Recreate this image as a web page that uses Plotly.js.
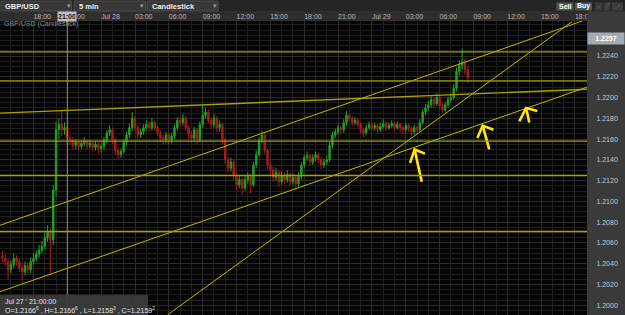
<!DOCTYPE html>
<html><head><meta charset="utf-8">
<script src="https://cdn.plot.ly/plotly-3.0.1.min.js"></script>
<style>html,body{margin:0;padding:0;background:#3a3a3a;overflow:hidden}#chart{width:625px;height:315px}</style>
</head><body><div id="chart"></div>
<script>
// ---- data (15-minute aggregation) ----
const startTime = '2022-07-27 15:15';
const stepMinutes = 15;
const openP = [
1.2048,1.2045,1.2042,1.2034,1.2039,1.2045,1.2042,1.2036,1.2032,1.2038,
1.2034,1.2042,1.2045,1.2049,1.2053,1.2057,1.2065,1.2071,1.2063,1.2111,
1.2169,1.2174,1.2169,1.2171,1.2161,1.2159,1.2154,1.2157,1.2153,1.2156,
1.2158,1.2154,1.2156,1.2152,1.2155,1.2151,1.2153,1.2159,1.2166,1.2169,
1.2159,1.2149,1.2145,1.2148,1.2157,1.2164,1.2171,1.2180,1.2171,1.2164,
1.2167,1.2171,1.2174,1.2171,1.2176,1.2171,1.2166,1.2161,1.2159,1.2164,
1.2159,1.2163,1.2171,1.2178,1.2176,1.2180,1.2171,1.2164,1.2161,1.2169,
1.2159,1.2174,1.2183,1.2186,1.2178,1.2174,1.2180,1.2171,1.2174,1.2159,
1.2140,1.2132,1.2138,1.2125,1.2116,1.2121,1.2113,1.2121,1.2124,1.2116,
1.2135,1.2145,1.2159,1.2164,1.2149,1.2135,1.2130,1.2123,1.2128,1.2119,
1.2125,1.2121,1.2126,1.2119,1.2123,1.2117,1.2124,1.2135,1.2142,1.2144,
1.2138,1.2142,1.2145,1.2140,1.2135,1.2138,1.2140,1.2154,1.2164,1.2167,
1.2171,1.2169,1.2176,1.2183,1.2180,1.2176,1.2178,1.2174,1.2169,1.2166,
1.2171,1.2174,1.2171,1.2173,1.2169,1.2172,1.2175,1.2171,1.2173,1.2175,
1.2171,1.2174,1.2171,1.2169,1.2173,1.2170,1.2167,1.2171,1.2169,1.2176,
1.2186,1.2190,1.2193,1.2198,1.2194,1.2200,1.2192,1.2188,1.2193,1.2198,
1.2200,1.2209,1.2225,1.2231,1.2234,1.2227];
const highP = [
1.2052,1.2049,1.2045,1.2043,1.2050,1.2048,1.2045,1.2039,1.2042,1.2041,
1.2046,1.2050,1.2053,1.2058,1.2062,1.2070,1.2077,1.2074,1.2116,1.2177,
1.2180,1.2188,1.2176,1.2173,1.2164,1.2162,1.2160,1.2160,1.2159,1.2162,
1.2160,1.2159,1.2158,1.2158,1.2157,1.2156,1.2162,1.2169,1.2173,1.2171,
1.2161,1.2152,1.2151,1.2160,1.2167,1.2175,1.2186,1.2182,1.2173,1.2170,
1.2174,1.2178,1.2177,1.2180,1.2178,1.2173,1.2168,1.2164,1.2167,1.2166,
1.2166,1.2174,1.2181,1.2181,1.2184,1.2182,1.2173,1.2167,1.2172,1.2171,
1.2177,1.2192,1.2190,1.2188,1.2181,1.2184,1.2182,1.2178,1.2176,1.2161,
1.2143,1.2142,1.2140,1.2127,1.2125,1.2123,1.2125,1.2128,1.2126,1.2138,
1.2149,1.2162,1.2168,1.2166,1.2151,1.2138,1.2133,1.2132,1.2130,1.2129,
1.2128,1.2130,1.2128,1.2127,1.2125,1.2128,1.2138,1.2145,1.2148,1.2146,
1.2145,1.2148,1.2147,1.2142,1.2141,1.2144,1.2157,1.2167,1.2170,1.2174,
1.2173,1.2179,1.2187,1.2185,1.2182,1.2181,1.2180,1.2176,1.2171,1.2174,
1.2177,1.2176,1.2176,1.2175,1.2176,1.2179,1.2177,1.2176,1.2178,1.2177,
1.2177,1.2176,1.2173,1.2176,1.2175,1.2172,1.2174,1.2173,1.2179,1.2189,
1.2194,1.2197,1.2202,1.2200,1.2204,1.2202,1.2195,1.2196,1.2201,1.2204,
1.2213,1.2229,1.2236,1.2247,1.2238,1.2230];
const lowP = [
1.2041,1.2038,1.2025,1.2031,1.2036,1.2038,1.2032,1.2024,1.2029,1.2030,
1.2031,1.2039,1.2042,1.2046,1.2050,1.2054,1.2061,1.2031,1.2058,1.2105,
1.2160,1.2163,1.2164,1.2157,1.2154,1.2150,1.2150,1.2149,1.2150,1.2153,
1.2150,1.2151,1.2148,1.2149,1.2146,1.2147,1.2150,1.2156,1.2163,1.2155,
1.2145,1.2141,1.2142,1.2146,1.2154,1.2161,1.2168,1.2168,1.2160,1.2161,
1.2164,1.2168,1.2167,1.2168,1.2168,1.2163,1.2157,1.2155,1.2156,1.2155,
1.2156,1.2160,1.2168,1.2172,1.2173,1.2168,1.2160,1.2157,1.2158,1.2155,
1.2157,1.2171,1.2180,1.2175,1.2170,1.2171,1.2167,1.2167,1.2155,1.2136,
1.2128,1.2129,1.2121,1.2111,1.2113,1.2106,1.2110,1.2117,1.2108,1.2114,
1.2132,1.2143,1.2156,1.2146,1.2131,1.2126,1.2119,1.2120,1.2114,1.2116,
1.2117,1.2118,1.2115,1.2116,1.2111,1.2114,1.2121,1.2132,1.2139,1.2135,
1.2135,1.2139,1.2137,1.2131,1.2132,1.2135,1.2138,1.2151,1.2161,1.2164,
1.2165,1.2166,1.2173,1.2177,1.2172,1.2173,1.2171,1.2165,1.2162,1.2164,
1.2169,1.2168,1.2168,1.2166,1.2167,1.2170,1.2168,1.2169,1.2171,1.2168,
1.2169,1.2167,1.2165,1.2166,1.2167,1.2163,1.2164,1.2165,1.2167,1.2174,
1.2183,1.2187,1.2190,1.2190,1.2192,1.2189,1.2185,1.2186,1.2190,1.2195,
1.2198,1.2206,1.2221,1.2227,1.2222,1.2214];
const closeP = [
1.2045,1.2042,1.2034,1.2039,1.2045,1.2042,1.2036,1.2032,1.2038,1.2034,
1.2042,1.2045,1.2049,1.2053,1.2057,1.2065,1.2071,1.2063,1.2111,1.2169,
1.2174,1.2169,1.2171,1.2161,1.2159,1.2154,1.2157,1.2153,1.2156,1.2158,
1.2154,1.2156,1.2152,1.2155,1.2151,1.2153,1.2159,1.2166,1.2169,1.2159,
1.2149,1.2145,1.2148,1.2157,1.2164,1.2171,1.2180,1.2171,1.2164,1.2167,
1.2171,1.2174,1.2171,1.2176,1.2171,1.2166,1.2161,1.2159,1.2164,1.2159,
1.2163,1.2171,1.2178,1.2176,1.2180,1.2171,1.2164,1.2161,1.2169,1.2159,
1.2174,1.2183,1.2186,1.2178,1.2174,1.2180,1.2171,1.2174,1.2159,1.2140,
1.2132,1.2138,1.2125,1.2116,1.2121,1.2113,1.2121,1.2124,1.2116,1.2135,
1.2145,1.2159,1.2164,1.2149,1.2135,1.2130,1.2123,1.2128,1.2119,1.2125,
1.2121,1.2126,1.2119,1.2123,1.2117,1.2124,1.2135,1.2142,1.2144,1.2138,
1.2142,1.2145,1.2140,1.2135,1.2138,1.2140,1.2154,1.2164,1.2167,1.2171,
1.2169,1.2176,1.2183,1.2180,1.2176,1.2178,1.2174,1.2169,1.2166,1.2171,
1.2174,1.2171,1.2173,1.2169,1.2172,1.2175,1.2171,1.2173,1.2175,1.2171,
1.2174,1.2171,1.2169,1.2173,1.2170,1.2167,1.2171,1.2169,1.2176,1.2186,
1.2190,1.2193,1.2198,1.2194,1.2200,1.2192,1.2188,1.2193,1.2198,1.2200,
1.2209,1.2225,1.2231,1.2234,1.2227,1.2219];

const xRange = ['2022-07-27 15:02', '2022-07-29 19:04'];
const yRange = [1.19906, 1.22737];
const xTickVals = ['2022-07-27 18:00','2022-07-27 21:00','2022-07-28 00:00','2022-07-28 03:00','2022-07-28 06:00','2022-07-28 09:00','2022-07-28 12:00','2022-07-28 15:00','2022-07-28 18:00','2022-07-28 21:00','2022-07-29 00:00','2022-07-29 03:00','2022-07-29 06:00','2022-07-29 09:00','2022-07-29 12:00','2022-07-29 15:00','2022-07-29 18:00'];
const xTickText = ['18:00','21:00','Jul 28','03:00','06:00','09:00','12:00','15:00','18:00','21:00','Jul 29','03:00','06:00','09:00','12:00','15:00','18:00'];
const yTickVals = [1.2000,1.2020,1.2040,1.2060,1.2080,1.2100,1.2120,1.2140,1.2160,1.2180,1.2200,1.2220,1.2240];

// horizontal support/resistance levels
const levelPrices = [1.2244, 1.2216, 1.2158, 1.2125, 1.2071];
// sloped trendlines: start/end (time, price)
const trendT0 = ['2022-07-27 15:02','2022-07-27 15:02','2022-07-27 15:02','2022-07-28 05:55'];
const trendP0 = [1.2185, 1.2077, 1.2013, 1.1991];
const trendT1 = ['2022-07-29 19:04','2022-07-29 18:43','2022-07-29 19:04','2022-07-29 17:44'];
const trendP1 = [1.2208, 1.2274, 1.2210, 1.2273];
const trendWidth = [1.4, 1, 1, 1];
// hand-drawn arrows: stem (bottom, middle, tip) and head (left, tip, right)
const arrowStemT = [['2022-07-29 04:25','2022-07-29 04:05','2022-07-29 03:47'],['2022-07-29 10:24','2022-07-29 10:02','2022-07-29 09:49'],['2022-07-29 13:57','2022-07-29 13:48','2022-07-29 13:40']];
const arrowStemP = [[1.2119,1.2135,1.2150],[1.2150,1.2164,1.2173],[1.2176,1.2183,1.2190]];
const arrowHeadT = [['2022-07-29 03:23','2022-07-29 03:47','2022-07-29 04:42'],['2022-07-29 09:21','2022-07-29 09:49','2022-07-29 10:46'],['2022-07-29 13:04','2022-07-29 13:40','2022-07-29 14:40']];
const arrowHeadP = [[1.2137,1.2150,1.2146],[1.2161,1.2173,1.2169],[1.2177,1.2190,1.2187]];

const crossTime = '2022-07-27 21:00';
const lastPrice = 1.2257;

// ---- build ----
function addMin(s, m) {
  const d = new Date(s.replace(' ', 'T') + ':00Z');
  d.setUTCMinutes(d.getUTCMinutes() + m);
  return d.toISOString().slice(0, 16).replace('T', ' ');
}
const times = closeP.map((_, i) => addMin(startTime, i * stepMinutes));

const FONT = 'Liberation Sans, Arial, sans-serif';
const W = 587, H = 294;
const px = x => x / W;
const py = y => (315 - y) / H;

const traces = [{
  type: 'candlestick', x: times, open: openP, high: highP, low: lowP, close: closeP,
  increasing: {line: {color: '#23a023', width: 1}, fillcolor: '#23a023'},
  decreasing: {line: {color: '#a81d1d', width: 1}, fillcolor: '#a81d1d'},
  whiskerwidth: 0, hoverinfo: 'skip', showlegend: false
}];
trendT0.forEach((t, k) => traces.push({
  type: 'scatter', mode: 'lines', x: [t, trendT1[k]], y: [trendP0[k], trendP1[k]],
  line: {color: k === 0 ? '#a6a200' : '#bdb900', width: trendWidth[k]}, hoverinfo: 'skip', showlegend: false
}));
arrowStemT.forEach((st, k) => traces.push({
  type: 'scatter', mode: 'lines',
  x: st.concat([null], arrowHeadT[k]), y: arrowStemP[k].concat([null], arrowHeadP[k]),
  line: {color: '#ffea00', width: 2.6}, hoverinfo: 'skip', showlegend: false
}));

const shapes = [];
const rect = (x0, y0, x1, y1, fill, layer, line) => shapes.push({type: 'rect', xref: 'paper', yref: 'paper',
  x0: px(x0), x1: px(x1), y0: py(y1), y1: py(y0), fillcolor: fill, layer: layer || 'below',
  line: line ? {color: line, width: 1} : {width: 0}});
rect(0, 0, 625, 11.5, '#252525');
rect(0, 11.5, 587, 21, '#2e2e2e');
rect(587, 11.5, 625, 21, '#3a3a3a', 'above');
rect(1, 1, 71.5, 11, '#383838', 'below', '#4a4a4a');
rect(74, 1, 145.5, 11, '#383838', 'below', '#4a4a4a');
rect(147, 1, 218, 11, '#383838', 'below', '#4a4a4a');
rect(556.5, 2.5, 573.5, 10.5, '#555555');
rect(575, 2.5, 592, 10.5, '#555555');
rect(595, 2.5, 602, 10.5, '#3c3c3c');
rect(603.5, 2.5, 610.5, 10.5, '#3c3c3c');
rect(612, 2.5, 623, 10.5, '#3c3c3c');
levelPrices.forEach(p => shapes.push({type: 'line', xref: 'paper', yref: 'y', x0: 0, x1: 1, y0: p, y1: p,
  line: {color: '#a6a200', width: 1.4}, layer: 'above'}));
shapes.push({type: 'line', xref: 'x', yref: 'paper', x0: crossTime, x1: crossTime, y0: 0, y1: py(11.5),
  line: {color: '#8c8c8c', width: 1}, layer: 'above'});
rect(0, 295, 148, 315, 'rgba(60,60,60,0.93)', 'above');

const ann = (x, y, text, opts) => Object.assign({xref: 'paper', yref: 'paper', x: px(x), y: py(y), text: text,
  showarrow: false, xanchor: 'left', yanchor: 'middle', font: {family: FONT, size: 7, color: '#e8e8e8'}}, opts || {});
const annotations = [
  ann(3, 6.3, '<b>GBP/USD</b>', {font: {family: FONT, size: 7.5, color: '#f0f0f0'}}),
  ann(77, 6.3, '<b>5 min</b>', {font: {family: FONT, size: 7.5, color: '#f0f0f0'}}),
  ann(150, 6.3, '<b>Candlestick</b>', {font: {family: FONT, size: 7.5, color: '#f0f0f0'}}),
  ann(68.5, 6.3, '▾', {xanchor: 'center', font: {family: 'DejaVu Sans', size: 7, color: '#9a9a9a'}}),
  ann(142, 6.3, '▾', {xanchor: 'center', font: {family: 'DejaVu Sans', size: 7, color: '#9a9a9a'}}),
  ann(215, 6.3, '▾', {xanchor: 'center', font: {family: 'DejaVu Sans', size: 7, color: '#9a9a9a'}}),
  ann(565, 6.5, '<b>Sell</b>', {xanchor: 'center', font: {family: FONT, size: 7, color: '#ffffff'}}),
  ann(583.5, 6.5, '<b>Buy</b>', {xanchor: 'center', font: {family: FONT, size: 7, color: '#ffffff'}}),
  ann(598.5, 6.5, '▿', {xanchor: 'center', font: {family: 'DejaVu Sans', size: 6, color: '#6a6a6a'}}),
  ann(607, 6.5, '⁄', {xanchor: 'center', font: {family: 'DejaVu Sans', size: 7, color: '#6a6a6a'}}),
  ann(617.5, 6.5, '⤢', {xanchor: 'center', font: {family: 'DejaVu Sans', size: 6, color: '#6a6a6a'}}),
  ann(1.5, 24.5, 'GBP/USD (Candlestick)', {font: {family: FONT, size: 7, color: '#8a8a8a'}}),
  ann(3, 301.5, "Jul 27 ' 21:00:00", {font: {family: FONT, size: 7, color: '#e6e6e6'}}),
  ann(3, 309.8, 'O=1.2166<sup>6</sup> , H=1.2166<sup>6</sup> , L=1.2158<sup>3</sup> , C=1.2159<sup>2</sup>', {font: {family: FONT, size: 7, color: '#e6e6e6'}}),
  {xref: 'x', yref: 'paper', x: crossTime, y: py(16.3), text: '<b>21:00</b>', showarrow: false,
   xanchor: 'center', yanchor: 'middle', bgcolor: '#b9bdc2', borderpad: 0.5, width: 17, height: 8,
   font: {family: FONT, size: 7, color: '#1a1a1a'}},
  {xref: 'paper', yref: 'y', x: px(605.5), y: lastPrice, text: '<b>1.2257</b>', showarrow: false,
   xanchor: 'center', yanchor: 'middle', bgcolor: '#a3acb5', width: 34, height: 8.5,
   font: {family: FONT, size: 7, color: '#ffffff'}}
];

const layout = {
  width: 625, height: 315,
  margin: {l: 0, r: 38, t: 21, b: 0, pad: 0},
  paper_bgcolor: '#3a3a3a', plot_bgcolor: '#050505',
  showlegend: false, dragmode: false,
  xaxis: {
    type: 'date', range: xRange, side: 'top', rangeslider: {visible: false},
    tickmode: 'array', tickvals: xTickVals, ticktext: xTickText,
    ticklabelposition: 'outside right', ticks: '',
    tickfont: {family: FONT, size: 7, color: '#b8b8b8'},
    showgrid: true, gridcolor: '#2b2b2b', gridwidth: 1,
    minor: {tickmode: 'linear', tick0: '2022-07-27 00:00', dtick: 3600000, showgrid: true, gridcolor: '#1e1e1e', gridwidth: 1},
    zeroline: false, showline: false, fixedrange: true
  },
  yaxis: {
    side: 'right', range: yRange, tickmode: 'array', tickvals: yTickVals, tickformat: '.4f',
    ticks: 'outside', ticklen: 7, tickcolor: 'rgba(0,0,0,0)',
    tickfont: {family: FONT, size: 7, color: '#c8c8c8'},
    showgrid: true, gridcolor: '#2b2b2b', gridwidth: 1,
    minor: {tickmode: 'linear', tick0: 1.2, dtick: 0.0005, showgrid: true, gridcolor: '#1e1e1e', gridwidth: 1},
    zeroline: false, showline: false, fixedrange: true
  },
  shapes: shapes, annotations: annotations
};
Plotly.newPlot('chart', traces, layout, {staticPlot: true, displayModeBar: false});
</script>
</body></html>
